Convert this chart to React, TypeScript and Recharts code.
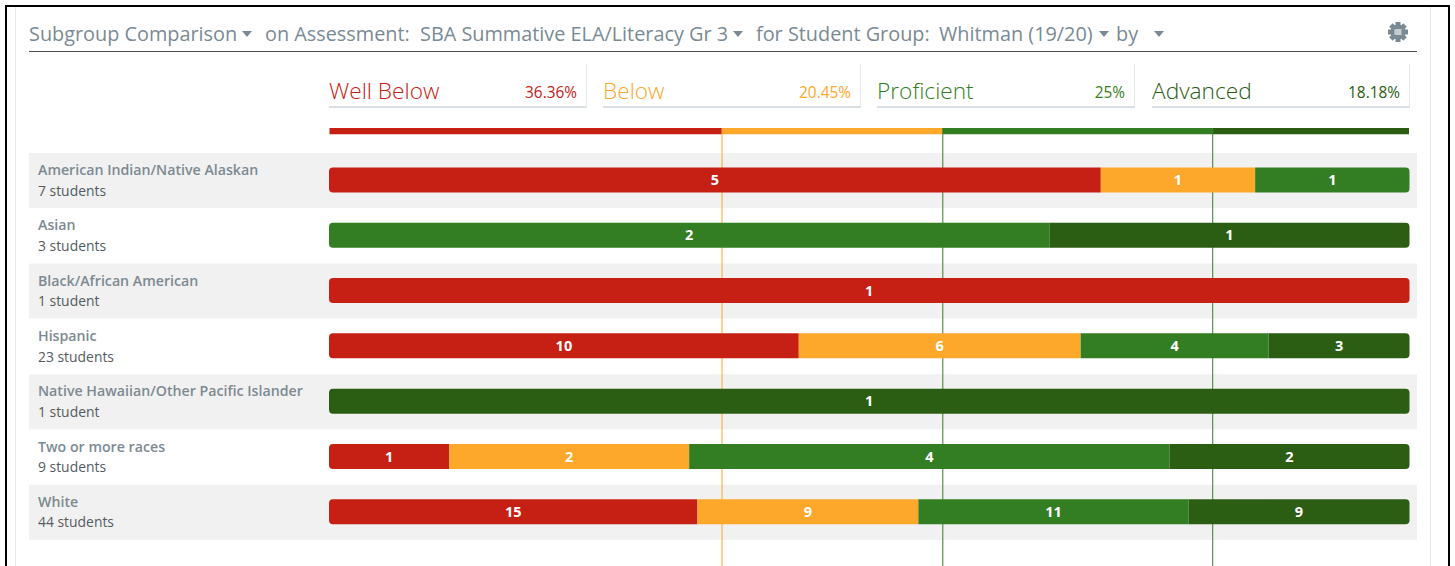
import React from "react";
import { BarChart, Bar, XAxis, YAxis, ReferenceLine, LabelList, Rectangle } from "recharts";

const categories = ["American Indian/Native Alaskan", "Asian", "Black/African American", "Hispanic", "Native Hawaiian/Other Pacific Islander", "Two or more races", "White"];
const studentLabels = ["7 students", "3 students", "1 student", "23 students", "1 student", "9 students", "44 students"];
const wellBelow = [5, 0, 1, 10, 0, 1, 15];
const below = [1, 0, 0, 6, 0, 2, 9];
const proficient = [1, 2, 0, 4, 0, 4, 11];
const advanced = [0, 1, 0, 3, 1, 2, 9];
const levelNames = ["Well Below", "Below", "Proficient", "Advanced"];
const levelKeys = ["wellBelow", "below", "proficient", "advanced"];
const levelPercents = [36.36, 20.45, 25, 18.18];
const levelPercentLabels = ["36.36%", "20.45%", "25%", "18.18%"];
const levelColors = ["#c62015", "#fda72b", "#337e22", "#2b5d12"];

const font = "'Open Sans', sans-serif";
const W = 1455;
const H = 566;

const rows = categories.map((name, i) => ({
  name,
  students: studentLabels[i],
  wellBelow: wellBelow[i],
  below: below[i],
  proficient: proficient[i],
  advanced: advanced[i],
  band: i % 2 === 0 ? 1 : 0,
}));

const summaryRow = [
  {
    name: "All",
    wellBelow: levelPercents[0],
    below: levelPercents[1],
    proficient: levelPercents[2],
    advanced: levelPercents[3],
  },
];

const total = levelPercents.reduce((a, b) => a + b, 0);
const cuts = levelPercents.slice(0, 3).map((_, i) =>
  levelPercents.slice(0, i + 1).reduce((a, b) => a + b, 0) / total
);

const layer: React.CSSProperties = { position: "absolute", left: 0, top: 0 };

function segmentShape(key: string) {
  return (props: any) => {
    const { x, y, width, height, payload } = props;
    if (!payload[key]) return <g />;
    const present = levelKeys.filter((k) => payload[k] > 0);
    const r = 4;
    const left = present[0] === key ? r : 0;
    const right = present[present.length - 1] === key ? r : 0;
    return <Rectangle x={x} y={y} width={width} height={height} fill={levelColors[levelKeys.indexOf(key)]} radius={[left, right, right, left]} />;
  };
}

function RowTick(props: any) {
  const { y, index } = props;
  return (
    <g fontFamily={font}>
      <text x={38} y={y - 5} fontSize={14.2} fontWeight={600} fill="#7d8a92">{categories[index]}</text>
      <text x={38} y={y + 15.5} fontSize={13.9} fill="#555b60">{studentLabels[index]}</text>
    </g>
  );
}

function Caret({ x }: { x: number }) {
  return <div style={{ position: "absolute", left: x, top: 31, width: 0, height: 0, borderLeft: "5.5px solid transparent", borderRight: "5.5px solid transparent", borderTop: "6px solid #7a8a94" }} />;
}

function TitleText({ x, children }: { x: number; children: React.ReactNode }) {
  return <div style={{ position: "absolute", left: x, top: 21, fontFamily: font, fontSize: 19.85, lineHeight: "26px", color: "#7a8a94", whiteSpace: "nowrap" }}>{children}</div>;
}

function Gear() {
  const teeth = [0, 45, 90, 135];
  return (
    <svg style={{ position: "absolute", left: 1387, top: 21 }} width={22} height={22} viewBox="0 0 22 22">
      {teeth.map((a) => (
        <rect key={a} x={8.5} y={1} width={5} height={20} fill="#7a8a94" transform={`rotate(${a} 11 11)`} />
      ))}
      <circle cx={11} cy={11} r={7.5} fill="#7a8a94" />
      <rect x={7.5} y={8} width={7} height={6} fill="#c5ccd1" />
    </svg>
  );
}

const cardLefts = [329, 603, 877, 1152];
const cardWidth = 257;

export default function App() {
  return (
    <div style={{ position: "absolute", left: 0, top: 0, width: W, height: H, background: "#fff", overflow: "hidden" }}>
      <div style={{ position: "absolute", left: 5, top: 5, width: 1441, height: 600, borderLeft: "2px solid #000", borderRight: "2px solid #000", borderTop: "2px solid #000" }} />
      <div style={{ position: "absolute", left: 15, top: 7, width: 1, height: 560, background: "#e8e8e8" }} />
      <div style={{ position: "absolute", left: 1430, top: 7, width: 1, height: 560, background: "#e8e8e8" }} />

      <TitleText x={29}>Subgroup Comparison</TitleText>
      <Caret x={242} />
      <TitleText x={265}>on Assessment:</TitleText>
      <TitleText x={420}>SBA Summative ELA/Literacy Gr 3</TitleText>
      <Caret x={733} />
      <TitleText x={756}>for Student Group:</TitleText>
      <TitleText x={939}>Whitman (19/20)</TitleText>
      <Caret x={1099} />
      <TitleText x={1116}>by</TitleText>
      <Caret x={1154} />
      <Gear />
      <div style={{ position: "absolute", left: 29, top: 51, width: 1388, height: 1, background: "#4a4f53" }} />

      {levelNames.map((name, i) => (
        <div key={name} style={{ position: "absolute", left: cardLefts[i], top: 64, width: cardWidth, height: 42, borderBottom: "2px solid #d9e0e5", borderRight: "1px solid #e6e9ec", fontFamily: font, color: levelColors[i] }}>
          <span style={{ position: "absolute", left: 0, top: 12, fontSize: 22.7, fontWeight: 300, lineHeight: "30px" }}>{name}</span>
          <span style={{ position: "absolute", right: 9, top: 19, fontSize: 15.4, lineHeight: "20px" }}>{levelPercentLabels[i]}</span>
        </div>
      ))}

      <div style={layer}>
        <BarChart width={W} height={H} data={rows} layout="vertical" barCategoryGap={0} margin={{ top: 153, right: 38, bottom: 26, left: 29 }}>
          <XAxis type="number" hide domain={[0, 1]} />
          <YAxis type="category" dataKey="name" hide />
          <Bar dataKey="band" fill="#f1f1f1" isAnimationActive={false} />
        </BarChart>
      </div>

      <div style={layer}>
        <BarChart width={W} height={H} data={summaryRow} layout="vertical" stackOffset="expand" barSize={7} margin={{ top: 128, right: 46, bottom: 0, left: 329.5 }}>
          <XAxis type="number" hide domain={[0, 1]} />
          <YAxis type="category" dataKey="name" hide padding={{ top: 0, bottom: 431 }} />
          {levelKeys.map((k, i) => (
            <Bar key={k} dataKey={k} stackId="all" fill={levelColors[i]} isAnimationActive={false} />
          ))}
          <ReferenceLine x={cuts[0]} stroke={levelColors[1]} strokeWidth={1} />
          <ReferenceLine x={cuts[1]} stroke={levelColors[2]} strokeWidth={1} />
          <ReferenceLine x={cuts[2]} stroke={levelColors[2]} strokeWidth={1} />
        </BarChart>
      </div>

      <div style={layer}>
        <BarChart width={W} height={H} data={rows} layout="vertical" stackOffset="expand" barSize={25} margin={{ top: 152.5, right: 45.5, bottom: 26.5, left: 0 }}>
          <XAxis type="number" hide domain={[0, 1]} />
          <YAxis type="category" dataKey="name" width={329} axisLine={false} tickLine={false} interval={0} tick={<RowTick />} />
          {levelKeys.map((k) => (
            <Bar key={k} dataKey={k} stackId="s" isAnimationActive={false} shape={segmentShape(k)}>
              <LabelList dataKey={k} position="center" fill="#fff" fontFamily={font} fontSize={14.5} fontWeight={700} formatter={(v: any) => (v ? v : "")} />
            </Bar>
          ))}
        </BarChart>
      </div>
    </div>
  );
}
